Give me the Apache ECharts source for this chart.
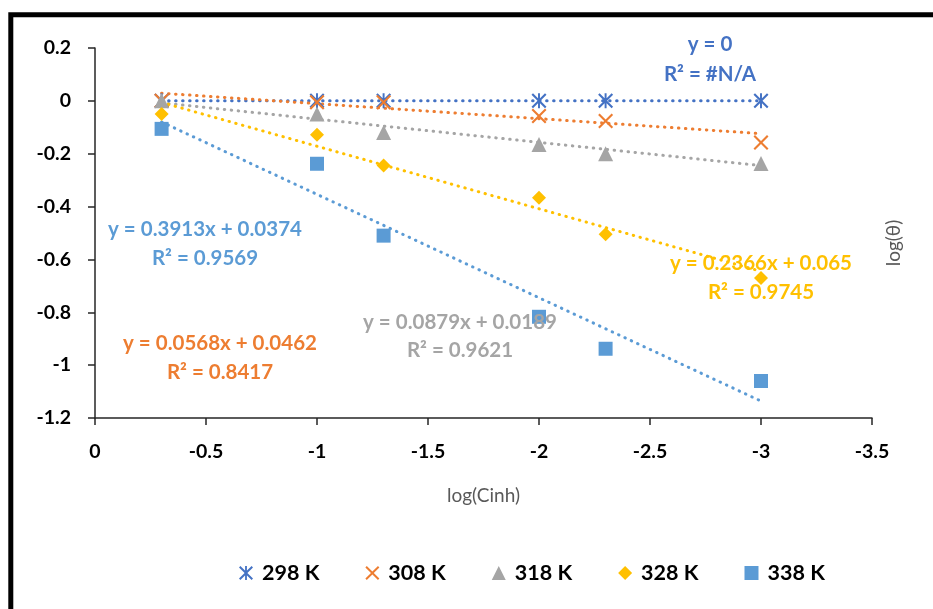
<!DOCTYPE html>
<html>
<head>
<meta charset="utf-8">
<script src="https://cdn.jsdelivr.net/npm/echarts@6/dist/echarts.min.js"></script>
<style>
  html, body { margin: 0; padding: 0; background: #fff; }
  #chart { width: 933px; height: 609px; }
</style>
</head>
<body>
<div id="chart"></div>
<script>
// log(Cinh) values shared by every temperature
const logCinh = [-0.3, -1, -1.3, -2, -2.3, -3]
const temps = ['298 K', '308 K', '318 K', '328 K', '338 K']

// log(theta)
const theta298 = [0, 0, 0, 0, 0, 0]
const theta308 = [0, -0.005, -0.005, -0.057, -0.076, -0.158]
const theta318 = [0, -0.05, -0.12, -0.165, -0.2, -0.237]
const theta328 = [-0.05, -0.128, -0.245, -0.367, -0.505, -0.67]
const theta338 = [-0.106, -0.238, -0.51, -0.817, -0.938, -1.06]

// linear trendlines, start and end (x = -0.3 and x = -3)
const trendX = [-0.3, -3]
const trend298 = [0, 0]
const trend308 = [0.029, -0.124]
const trend318 = [-0.0075, -0.245]
const trend328 = [-0.006, -0.645]
const trend338 = [-0.08, -1.136]

const equations = [
  'y = 0',
  'y = 0.0568x + 0.0462',
  'y = 0.0879x + 0.0189',
  'y = 0.2366x + 0.065',
  'y = 0.3913x + 0.0374'
]
const rSquared = ['R² = #N/A', 'R² = 0.8417', 'R² = 0.9621', 'R² = 0.9745', 'R² = 0.9569']

const colors = ['#4472C4', '#ED7D31', '#A5A5A5', '#FFC000', '#5B9BD5']
const thetas = [theta298, theta308, theta318, theta328, theta338]
const trends = [trend298, trend308, trend318, trend328, trend338]

// marker shapes: excel star, x, triangle, diamond, square
const xPath = 'M0,2 L2,0 L10,8 L18,0 L20,2 L12,10 L20,18 L18,20 L10,12 L2,20 L0,18 L8,10 Z'
const starPath = xPath + ' M8.7,0 L11.3,0 L11.3,20 L8.7,20 Z'
const symbols = ['path://' + starPath, 'path://' + xPath, 'triangle', 'diamond', 'rect']
const symbolSizes = [15, 15, 15, 14, 14]

// where each equation sits on the plot
const labelPos = [[710, 44, 74], [220, 343, 372], [460, 322, 350], [761, 263, 292], [205, 229, 258]]

const font = 'Lato, "Open Sans", sans-serif'
const chart = echarts.init(document.getElementById('chart'))

const series = []
trends.forEach((t, i) => {
  series.push({
    name: temps[i] + ' trend',
    type: 'line',
    data: trendX.map((x, j) => [x, t[j]]),
    symbol: 'none',
    silent: true,
    z: 2,
    lineStyle: { color: colors[i], width: 3, type: [0.5, 6.5], cap: 'round' }
  })
})
thetas.forEach((d, i) => {
  series.push({
    name: temps[i],
    type: 'scatter',
    data: logCinh.map((x, j) => [x, d[j]]),
    symbol: symbols[i],
    symbolSize: symbolSizes[i],
    itemStyle: { color: colors[i], opacity: 1 },
    z: 3 + i
  })
})

const graphic = [{
  type: 'rect',
  shape: { x: 10.8, y: 14.8, width: 1000, height: 1000 },
  style: { fill: 'none', stroke: '#000', lineWidth: 5 },
  silent: true
}, {
  type: 'text',
  x: 894,
  y: 243,
  rotation: Math.PI / 2,
  style: {
    text: 'log(θ)', fill: '#595959', font: '19px ' + font,
    textAlign: 'center', textVerticalAlign: 'middle'
  }
}]
labelPos.forEach((p, i) => {
  graphic.push({
    type: 'text', x: p[0], y: p[1], z: 10,
    style: { text: equations[i], fill: colors[i], font: 'bold 20.5px ' + font, textAlign: 'center', textVerticalAlign: 'middle' }
  })
  graphic.push({
    type: 'text', x: p[0], y: p[2], z: 10,
    style: { text: rSquared[i], fill: colors[i], font: 'bold 20.5px ' + font, textAlign: 'center', textVerticalAlign: 'middle' }
  })
})

const axisLine = { show: true, onZero: false, lineStyle: { color: '#262626', width: 1.5 } }

chart.setOption({
  animation: false,
  grid: { left: 95, right: 61, top: 48, bottom: 191 },
  xAxis: {
    type: 'value',
    inverse: true,
    min: -3.5,
    max: 0,
    interval: 0.5,
    name: 'log(Cinh)',
    nameLocation: 'middle',
    nameGap: 68,
    nameTextStyle: { color: '#595959', fontSize: 19, fontFamily: font },
    axisLine: axisLine,
    axisTick: { show: true, length: 7, lineStyle: { color: '#262626', width: 1.5 } },
    axisLabel: { color: '#000', fontSize: 19.5, fontWeight: 'bold', fontFamily: font, margin: 24 },
    splitLine: { show: false }
  },
  yAxis: {
    type: 'value',
    min: -1.2,
    max: 0.2,
    interval: 0.2,
    axisLine: axisLine,
    axisTick: { show: true, length: 7, lineStyle: { color: '#262626', width: 1.5 } },
    axisLabel: { color: '#000', fontSize: 19.5, fontWeight: 'bold', fontFamily: font, margin: 24 },
    splitLine: { show: false }
  },
  legend: {
    data: temps,
    left: 234,
    top: 557,
    itemWidth: 14,
    itemHeight: 14,
    itemGap: 46,
    textStyle: { color: '#000', fontSize: 21.5, fontWeight: 'bold', fontFamily: font, padding: [0, 0, 0, 4] }
  },
  graphic: graphic,
  series: series
})
</script>
</body>
</html>
